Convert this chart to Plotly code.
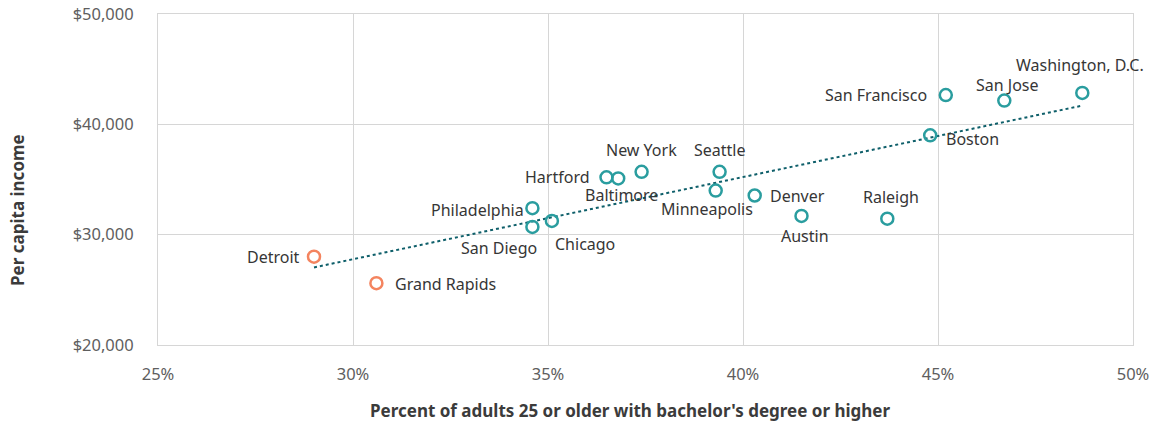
import numpy as np
import plotly.graph_objects as go

cities = ["Detroit", "Grand Rapids", "Philadelphia", "San Diego", "Chicago", "Hartford",
          "Baltimore", "New York", "Seattle", "Minneapolis", "Denver", "Austin", "Raleigh",
          "Boston", "San Francisco", "San Jose", "Washington, D.C."]
bachelor_pct = [29.0, 30.6, 34.6, 34.6, 35.1, 36.5, 36.8, 37.4, 39.4, 39.3, 40.3, 41.5, 43.7,
                44.8, 45.2, 46.7, 48.7]
income = [28000, 25600, 32400, 30700, 31250, 35200, 35100, 35700, 35700, 34000, 33550, 31700,
          31450, 39000, 42650, 42150, 42850]
group = ["mi", "mi"] + ["other"] * 15

x_ticks = [25, 30, 35, 40, 45, 50]
x_tick_labels = ["25%", "30%", "35%", "40%", "45%", "50%"]
y_ticks = [20000, 30000, 40000, 50000]
y_tick_labels = ["$20,000", "$30,000", "$40,000", "$50,000"]

# label placement (anchor, x shift px, y shift px) — styling only
label_style = [
    ("right", -12, 0),   # Detroit
    ("left", 17, -1),    # Grand Rapids
    ("right", -6, -2),   # Philadelphia
    ("right", 7, -21),   # San Diego
    ("left", 1, -23),    # Chicago
    ("right", -15, 0),   # Hartford
    ("center", 3, -17),  # Baltimore
    ("center", 0, 22),   # New York
    ("center", 0, 22),   # Seattle
    ("center", -9, -18), # Minneapolis
    ("left", 13, 0),     # Denver
    ("center", 3, -20),  # Austin
    ("center", 4, 22),   # Raleigh
    ("left", 14, -4),    # Boston
    ("right", -17, 0),   # San Francisco
    ("center", 3, 16),   # San Jose
    ("center", -2, 28),  # Washington, D.C.
]

TEAL = "#2a9d9f"
ORANGE = "#f4845f"
TREND = "#0e5f6a"
FONT = "Noto Sans"
W, H = 1153, 425
L, R, T, B = 158, 20, 14, 80

fig = go.Figure()

# trendline (least squares on all points)
slope, intercept = np.polyfit(bachelor_pct, income, 1)
tx = [min(bachelor_pct), max(bachelor_pct)]
ty = [slope * v + intercept for v in tx]
fig.add_trace(go.Scatter(x=tx, y=ty, mode="lines",
                         line=dict(color=TREND, width=2, dash="dot"),
                         hoverinfo="skip", showlegend=False))

for g, col in [("other", TEAL), ("mi", ORANGE)]:
    idx = [i for i, v in enumerate(group) if v == g]
    fig.add_trace(go.Scatter(
        x=[bachelor_pct[i] for i in idx],
        y=[income[i] for i in idx],
        text=[cities[i] for i in idx],
        mode="markers",
        cliponaxis=False,
        marker=dict(size=12, color="rgba(0,0,0,0)", line=dict(color=col, width=2.5)),
        showlegend=False,
    ))

for name, xv, yv, (anc, dx, dy) in zip(cities, bachelor_pct, income, label_style):
    fig.add_annotation(
        x=xv, y=yv, text=name, showarrow=False,
        xanchor=anc, yanchor="middle", xshift=dx, yshift=dy,
        font=dict(family=FONT, size=16, color="#363636"),
    )

fig.update_layout(
    width=W, height=H,
    margin=dict(l=L, r=R, t=T, b=B, autoexpand=False),
    plot_bgcolor="white", paper_bgcolor="white",
    font=dict(family=FONT, color="#595959"),
)
fig.update_xaxes(
    range=[25, 50], tickvals=x_ticks, ticktext=x_tick_labels,
    showgrid=True, gridcolor="#d6d6d6", gridwidth=1,
    showline=True, linecolor="#d6d6d6", mirror=True, zeroline=False,
    tickfont=dict(family=FONT, size=16.5, color="#5e5e5e"),
    ticklabelstandoff=14, automargin=False,
)
fig.update_yaxes(
    range=[20000, 50000], tickvals=y_ticks, ticktext=y_tick_labels,
    showgrid=True, gridcolor="#d6d6d6", gridwidth=1,
    showline=True, linecolor="#d6d6d6", mirror=True, zeroline=False,
    tickfont=dict(family=FONT, size=16.5, color="#5e5e5e"),
    ticklabelstandoff=20, automargin=False,
)

pw = W - L - R
ph = H - T - B
fig.add_annotation(
    text="<b>Percent of adults 25 or older with bachelor's degree or higher</b>",
    xref="paper", yref="paper",
    x=(630 - L) / pw, y=-(410 - (H - B)) / ph,
    xanchor="center", yanchor="middle", showarrow=False,
    font=dict(family=FONT, size=17, color="#3b3b3b"),
)
fig.add_annotation(
    text="<b>Per capita income</b>",
    xref="paper", yref="paper",
    x=-(L - 18) / pw, y=((H - B) - 210) / ph,
    xanchor="center", yanchor="middle", textangle=-90, showarrow=False,
    font=dict(family=FONT, size=17, color="#3b3b3b"),
)

fig.write_html("out.html", config={"displayModeBar": False},
               post_script="document.body.style.margin='0';document.body.style.overflow='hidden';")
